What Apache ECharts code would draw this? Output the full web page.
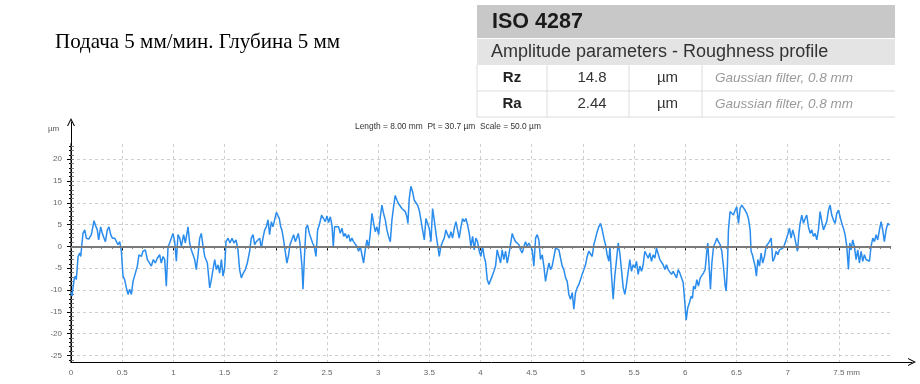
<!DOCTYPE html>
<html>
<head>
<meta charset="utf-8">
<title>Roughness profile</title>
<script src="https://cdn.jsdelivr.net/npm/echarts@6.0.0/dist/echarts.min.js"></script>
<style>
  html, body { margin: 0; padding: 0; background: #fff; }
  #main { width: 920px; height: 384px; }
</style>
</head>
<body>
<div id="main"></div>
<script>
// profile: x in mm, height in µm
var profileX = [
  0.000, 0.010, 0.030, 0.043, 0.052, 0.069, 0.085, 0.095, 0.117, 0.134, 0.150, 0.173, 0.199, 0.225, 0.238, 0.257,
  0.270, 0.290, 0.306, 0.323, 0.336, 0.355, 0.371, 0.388, 0.404, 0.427, 0.443, 0.459, 0.476, 0.492, 0.508, 0.524,
  0.541, 0.557, 0.573, 0.590, 0.606, 0.622, 0.648, 0.664, 0.687, 0.703, 0.726, 0.746, 0.762, 0.785, 0.804, 0.824,
  0.843, 0.866, 0.882, 0.899, 0.915, 0.931, 0.948, 0.964, 0.980, 0.996, 1.013, 1.029, 1.045, 1.062, 1.078, 1.100,
  1.117, 1.143, 1.159, 1.176, 1.192, 1.208, 1.224, 1.241, 1.257, 1.273, 1.290, 1.306, 1.332, 1.355, 1.371, 1.387,
  1.404, 1.420, 1.436, 1.452, 1.469, 1.485, 1.501, 1.514, 1.534, 1.553, 1.573, 1.592, 1.612, 1.631, 1.647, 1.664,
  1.683, 1.703, 1.722, 1.745, 1.761, 1.778, 1.794, 1.810, 1.826, 1.843, 1.859, 1.875, 1.892, 1.908, 1.924, 1.940,
  1.957, 1.973, 1.989, 2.006, 2.018, 2.035, 2.048, 2.060, 2.074, 2.093, 2.109, 2.126, 2.139, 2.158, 2.175, 2.191,
  2.204, 2.220, 2.236, 2.256, 2.266, 2.279, 2.295, 2.311, 2.328, 2.344, 2.360, 2.376, 2.393, 2.409, 2.425, 2.448,
  2.467, 2.484, 2.500, 2.516, 2.533, 2.549, 2.562, 2.575, 2.594, 2.614, 2.630, 2.647, 2.663, 2.679, 2.695, 2.712,
  2.728, 2.744, 2.760, 2.777, 2.793, 2.809, 2.826, 2.842, 2.858, 2.874, 2.891, 2.907, 2.923, 2.940, 2.956, 2.972,
  2.988, 3.005, 3.021, 3.037, 3.053, 3.070, 3.086, 3.102, 3.119, 3.135, 3.151, 3.167, 3.184, 3.200, 3.216, 3.232,
  3.249, 3.265, 3.281, 3.291, 3.304, 3.320, 3.337, 3.353, 3.369, 3.385, 3.402, 3.418, 3.434, 3.451, 3.467, 3.483,
  3.499, 3.516, 3.532, 3.548, 3.565, 3.581, 3.597, 3.613, 3.630, 3.646, 3.662, 3.679, 3.695, 3.711, 3.727, 3.744,
  3.760, 3.776, 3.792, 3.809, 3.825, 3.841, 3.858, 3.874, 3.890, 3.906, 3.923, 3.939, 3.955, 3.971, 3.988, 4.004,
  4.020, 4.037, 4.049, 4.066, 4.082, 4.098, 4.114, 4.131, 4.147, 4.163, 4.180, 4.196, 4.212, 4.228, 4.245, 4.261,
  4.277, 4.293, 4.310, 4.326, 4.342, 4.359, 4.375, 4.391, 4.407, 4.424, 4.440, 4.456, 4.472, 4.489, 4.505, 4.521,
  4.538, 4.554, 4.570, 4.586, 4.603, 4.619, 4.635, 4.652, 4.668, 4.684, 4.700, 4.717, 4.733, 4.749, 4.766, 4.782,
  4.798, 4.814, 4.831, 4.847, 4.863, 4.879, 4.896, 4.912, 4.928, 4.944, 4.961, 4.977, 4.993, 5.010, 5.026, 5.042,
  5.058, 5.075, 5.091, 5.107, 5.124, 5.140, 5.156, 5.172, 5.189, 5.205, 5.221, 5.237, 5.254, 5.264, 5.277, 5.296,
  5.312, 5.329, 5.345, 5.361, 5.377, 5.394, 5.410, 5.426, 5.443, 5.459, 5.475, 5.491, 5.508, 5.524, 5.540, 5.556,
  5.573, 5.589, 5.605, 5.622, 5.638, 5.654, 5.670, 5.687, 5.703, 5.719, 5.735, 5.752, 5.768, 5.784, 5.801, 5.817,
  5.833, 5.849, 5.866, 5.882, 5.898, 5.915, 5.931, 5.947, 5.963, 5.980, 5.996, 6.009, 6.025, 6.041, 6.058, 6.070,
  6.081, 6.097, 6.113, 6.129, 6.146, 6.162, 6.178, 6.194, 6.211, 6.220, 6.233, 6.246, 6.260, 6.276, 6.292, 6.308,
  6.324, 6.341, 6.357, 6.373, 6.390, 6.400, 6.412, 6.422, 6.438, 6.455, 6.471, 6.487, 6.503, 6.520, 6.536, 6.552,
  6.569, 6.585, 6.601, 6.617, 6.634, 6.643, 6.656, 6.669, 6.682, 6.695, 6.709, 6.725, 6.741, 6.757, 6.774, 6.790,
  6.806, 6.822, 6.839, 6.855, 6.871, 6.888, 6.904, 6.920, 6.936, 6.953, 6.969, 6.985, 7.001, 7.018, 7.034, 7.050,
  7.067, 7.083, 7.096, 7.109, 7.122, 7.138, 7.155, 7.171, 7.187, 7.203, 7.220, 7.236, 7.252, 7.269, 7.285, 7.301,
  7.317, 7.334, 7.350, 7.366, 7.382, 7.399, 7.415, 7.431, 7.447, 7.464, 7.480, 7.496, 7.513, 7.529, 7.545, 7.561,
  7.578, 7.594, 7.607, 7.620, 7.636, 7.652, 7.669, 7.685, 7.701, 7.718, 7.734, 7.750, 7.766, 7.783, 7.799, 7.815,
  7.832, 7.848, 7.864, 7.880, 7.897, 7.913, 7.929, 7.945, 7.962, 7.978, 7.995
];
var profileY = [
  -10.5, -11.4, -7.6, -6.8, -7.6, -2.3, -1.5, -2.3, 3.0, 3.8, 1.9, 1.7, 2.7, 5.9, 4.9, 3.8,
  1.5, 4.5, 3.0, 1.9, 1.1, 3.8, 4.5, 2.7, 1.9, 1.9, 2.3, 0.4, 1.1, -1.1, -6.8, -7.6,
  -9.5, -11.0, -9.8, -11.0, -8.0, -7.6, -4.5, -1.9, -2.3, -1.1, -0.8, -3.0, -2.7, -4.5, -3.0, -3.8,
  -2.7, -1.9, -3.8, -2.3, -3.0, -9.1, 0.0, 0.8, 0.4, 3.0, 1.1, -3.4, 2.7, 1.9, 0.0, 2.7,
  0.8, 4.5, 0.8, -0.8, -1.1, -3.0, -5.3, -1.9, 1.9, 3.0, 0.0, -2.3, -3.8, -9.5, -7.6, -5.3,
  -3.0, -5.3, -4.2, -6.1, -3.0, -6.8, -4.9, 1.1, 1.9, 0.8, 1.9, 0.8, 1.5, -0.8, -5.3, -7.2,
  -6.1, -5.3, -3.8, -1.1, 1.9, 2.7, 0.4, 1.1, 1.5, 1.9, -0.4, 1.9, 3.8, 4.5, 6.1, 2.7,
  5.7, 4.5, 4.2, 7.8, 8.0, 6.4, 4.5, 3.8, 1.9, 1.5, -3.8, -1.9, 0.4, 0.8, 2.7, 1.1,
  1.9, 3.0, 0.8, -4.5, -9.8, -3.0, 4.2, 4.9, 3.0, 1.9, 0.8, 0.0, -2.3, 3.8, 4.9, 7.2,
  6.8, 5.7, 7.0, 5.5, 6.8, 4.9, 0.0, 4.5, 4.9, 4.5, 3.0, 4.2, 2.3, 3.0, 1.9, 2.7,
  1.1, 1.9, 1.1, 1.5, 0.0, -1.1, 0.0, -1.9, -3.8, -0.8, 1.5, -0.4, 3.0, 7.6, 5.3, 3.4,
  4.5, 2.7, 6.8, 9.5, 7.6, 6.1, 3.8, 2.3, 1.1, 6.1, 9.1, 11.7, 10.6, 9.8, 10.2, 8.7,
  8.3, 8.0, 6.8, 5.3, 11.0, 13.8, 12.5, 10.6, 11.0, 9.5, 8.3, 6.1, 3.8, 1.5, 6.4, 6.1,
  4.2, 1.1, 8.7, 6.1, 3.0, 0.4, -2.3, 0.0, 1.1, 1.9, 3.8, 2.7, 1.9, 3.4, 1.9, 4.2,
  5.7, 3.8, 1.9, 4.5, 6.4, 5.7, 6.4, 4.9, 3.0, 0.0, 2.3, -0.8, 1.9, 1.1, -1.1, -2.3,
  0.0, -2.5, -3.5, -7.6, -8.7, -8.7, -6.8, -5.7, -4.5, -0.8, -0.4, -3.8, -0.8, -3.0, -1.1, -3.8,
  -1.9, 0.4, 3.0, 1.9, 1.1, 1.5, 0.4, -0.8, -1.5, 0.0, 1.1, 0.0, 0.8, 0.0, -0.8, -4.5,
  1.9, 2.7, 1.5, -3.0, -1.9, -4.5, -8.0, -5.7, -3.8, -5.3, -4.5, -4.9, -0.4, 0.0, -0.8, -2.7,
  -4.5, -5.3, -7.2, -8.0, -11.0, -12.1, -10.6, -14.4, -10.6, -9.5, -8.7, -7.6, -6.4, -5.3, -4.2, -2.3,
  -1.1, -1.5, -2.3, 0.4, 1.9, 3.4, 4.5, 5.3, 3.8, 1.9, 0.4, -1.9, -3.4, 0.0, -5.7, -12.1,
  -6.8, -3.0, 0.8, -1.5, -5.3, -9.5, -11.0, -8.7, -5.7, -3.0, -5.7, -4.2, -4.9, -3.4, -6.4, -4.5,
  -5.7, -4.2, -1.1, -0.8, -2.7, -1.5, -3.4, -1.9, -2.7, -0.4, -0.8, -3.0, -3.4, -4.2, -5.3, -4.2,
  -5.3, -4.9, -6.4, -5.7, -6.1, -7.2, -5.3, -6.1, -6.4, -8.3, -12.9, -16.9, -14.0, -12.9, -11.4, -11.9,
  -9.1, -9.8, -7.6, -9.1, -7.2, -7.6, -6.1, -5.3, -1.1, 0.8, -4.5, -9.8, -3.8, 0.0, 0.8, 1.9,
  1.1, 0.4, -1.1, -4.5, -9.1, -10.2, -4.5, 3.8, 8.0, 8.3, 7.2, 8.3, 9.1, 5.3, 8.7, 9.5,
  9.8, 8.3, 7.6, 6.4, 3.8, -1.1, -1.9, -1.9, -4.5, -6.8, -3.0, -4.5, -1.5, -3.8, -2.3, 0.0,
  0.4, 1.1, 1.9, -3.4, -2.7, -1.1, -1.9, -0.8, -1.1, -0.4, 0.4, 1.5, 2.7, 4.2, 1.9, 3.8,
  2.3, 0.4, -1.1, 2.7, 5.3, 7.2, 5.3, 6.4, 7.2, 4.5, 3.0, 3.8, 2.3, 3.0, 1.5, 3.8,
  8.0, 5.7, 3.8, 4.2, 5.7, 8.3, 9.5, 7.2, 6.1, 5.3, 7.6, 8.3, 6.8, 5.3, 4.2, 2.7,
  0.0, -5.3, 0.8, -0.8, 1.5, 0.0, -3.0, -0.8, -3.8, -1.1, -3.4, -1.9, -3.0, -2.7, -3.4, 0.0,
  1.9, 1.1, 2.7, 1.5, 3.8, 5.7, 3.8, 1.1, 3.8, 5.3, 4.9
];

var xTicks = [0, 0.5, 1, 1.5, 2, 2.5, 3, 3.5, 4, 4.5, 5, 5.5, 6, 6.5, 7, 7.5];
var yTicks = [-25, -20, -15, -10, -5, 0, 5, 10, 15, 20];
var yMin = -26.5;
var yMax = 23.5;

var chartTitle = 'Подача 5 мм/мин. Глубина 5 мм';
var headerText = 'Length = 8.00 mm  Pt = 30.7 µm  Scale = 50.0 µm';

var tableTitle = 'ISO 4287';
var tableSubtitle = 'Amplitude parameters - Roughness profile';
var paramNames = ['Rz', 'Ra'];
var paramValues = ['14.8', '2.44'];
var paramUnits = ['µm', 'µm'];
var paramNotes = ['Gaussian filter, 0.8 mm', 'Gaussian filter, 0.8 mm'];

var xMinor = [];
for (var i = 0; i <= 80; i++) xMinor.push(i / 10);
var yMinor = [];
for (var j = -26; j <= 23; j++) yMinor.push(j);

var data = [];
for (var k = 0; k < profileX.length; k++) data.push([profileX[k], profileY[k]]);

// open arrow head, pointing up (echarts turns it for the x axis)
var arrowHead = 'path://M0,10 L5,0 L10,10 L8.6,10 L5,2.8 L1.4,10 Z';

// ISO table on the top right
var tbl = [];
var tLeft = 477, tRight = 895;
var colX = [477, 547, 629, 702];
var rowTop = 65, rowH = 26;
tbl.push({ type: 'rect', shape: { x: tLeft, y: 5, width: tRight - tLeft, height: 33 }, style: { fill: '#c8c8c8' } });
tbl.push({ type: 'text', x: 492, y: 22, style: { text: tableTitle, font: 'bold 21.5px "Liberation Sans"', fill: '#1a1a1a', verticalAlign: 'middle', textVerticalAlign: 'middle' } });
tbl.push({ type: 'rect', shape: { x: tLeft, y: 39, width: tRight - tLeft, height: 26 }, style: { fill: '#e4e4e4' } });
tbl.push({ type: 'text', x: 491, y: 52, style: { text: tableSubtitle, font: '18px "Liberation Sans"', fill: '#333', verticalAlign: 'middle', textVerticalAlign: 'middle' } });
for (var r = 0; r < paramNames.length; r++) {
  var ry = rowTop + r * rowH;
  var cy = ry + rowH / 2;
  tbl.push({ type: 'line', shape: { x1: tLeft, y1: ry + rowH, x2: tRight, y2: ry + rowH }, style: { stroke: '#dcdcdc', lineWidth: 1 } });
  tbl.push({ type: 'text', x: (colX[0] + colX[1]) / 2, y: cy, style: { text: paramNames[r], font: 'bold 15px "Liberation Sans"', fill: '#222', align: 'center', textAlign: 'center', verticalAlign: 'middle', textVerticalAlign: 'middle' } });
  tbl.push({ type: 'text', x: (colX[1] + colX[2]) / 2 + 4, y: cy, style: { text: paramValues[r], font: '15px "Liberation Sans"', fill: '#333', align: 'center', textAlign: 'center', verticalAlign: 'middle', textVerticalAlign: 'middle' } });
  tbl.push({ type: 'text', x: (colX[2] + colX[3]) / 2 + 2, y: cy, style: { text: paramUnits[r], font: '15px "Liberation Sans"', fill: '#333', align: 'center', textAlign: 'center', verticalAlign: 'middle', textVerticalAlign: 'middle' } });
  tbl.push({ type: 'text', x: colX[3] + 13, y: cy, style: { text: paramNotes[r], font: 'italic 13.5px "Liberation Sans"', fill: '#9a9a9a', verticalAlign: 'middle', textVerticalAlign: 'middle' } });
}
for (var c = 0; c < colX.length; c++) {
  tbl.push({ type: 'line', shape: { x1: colX[c], y1: rowTop, x2: colX[c], y2: rowTop + 2 * rowH }, style: { stroke: '#dcdcdc', lineWidth: 1 } });
}

var labelStyle = { color: '#666', fontSize: 8, fontFamily: 'Liberation Sans' };
var gridLine = { show: true, lineStyle: { color: '#cfcfcf', type: [3, 3], width: 1 } };

var chart = echarts.init(document.getElementById('main'));
chart.setOption({
  animation: false,
  backgroundColor: '#fff',
  textStyle: { fontFamily: 'Liberation Sans' },
  title: [
    { text: chartTitle, left: 55, top: 32, padding: 0,
      textStyle: { fontFamily: 'Liberation Serif', fontSize: 21, fontWeight: 'normal', color: '#000' } },
    { text: headerText, left: 355, top: 123, padding: 0,
      textStyle: { fontSize: 8.4, fontWeight: 'normal', color: '#333' } },
    { text: 'µm', left: 48, top: 125, padding: 0,
      textStyle: { fontSize: 8, fontWeight: 'normal', color: '#555' } }
  ],
  graphic: tbl,
  grid: [
    { left: 71, right: 30, top: 144, bottom: 22 },
    { left: 71, right: 8, top: 122, bottom: 22 }
  ],
  xAxis: [
    { // labels, major ticks, grid
      type: 'value', gridIndex: 0, min: 0, max: 8, position: 'bottom',
      axisLine: { show: false },
      axisTick: { show: true, customValues: xTicks, length: 4, lineStyle: { color: '#000' } },
      axisLabel: Object.assign({
        customValues: xTicks, margin: 7,
        formatter: function (v) { return v === 7.5 ? '{g| mm}7.5 mm' : String(v); },
        rich: { g: { color: 'rgba(0,0,0,0)', fontSize: 8 } }
      }, labelStyle),
      splitLine: gridLine
    },
    { // minor ticks
      type: 'value', gridIndex: 0, min: 0, max: 8, position: 'bottom',
      axisLine: { show: false },
      axisTick: { show: true, customValues: xMinor, length: 2, lineStyle: { color: '#000' } },
      axisLabel: { show: false }, splitLine: { show: false }
    },
    { // top frame
      type: 'value', gridIndex: 0, min: 0, max: 8, position: 'top',
      axisLine: { show: true, lineStyle: { color: '#7d7d7d', width: 2 } },
      axisTick: { show: true, inside: true, customValues: xMinor, length: 2, lineStyle: { color: '#7d7d7d' } },
      axisLabel: { show: false }, splitLine: { show: false }
    },
    { // x axis with arrow
      type: 'value', gridIndex: 1, min: 0, max: 1,
      axisLine: { show: true, onZero: false, symbol: ['none', arrowHead], symbolSize: [8, 9], lineStyle: { color: '#000', width: 1 } },
      axisTick: { show: false }, axisLabel: { show: false }, splitLine: { show: false }
    }
  ],
  yAxis: [
    {
      type: 'value', gridIndex: 0, min: yMin, max: yMax, position: 'left',
      axisLine: { show: false },
      axisTick: { show: true, customValues: yTicks, length: 4, lineStyle: { color: '#000' } },
      axisLabel: Object.assign({ customValues: yTicks, margin: 9 }, labelStyle),
      splitLine: gridLine
    },
    {
      type: 'value', gridIndex: 0, min: yMin, max: yMax, position: 'left',
      axisLine: { show: false },
      axisTick: { show: true, customValues: yMinor, length: 2, lineStyle: { color: '#000' } },
      axisLabel: { show: false }, splitLine: { show: false }
    },
    { // right frame
      type: 'value', gridIndex: 0, min: yMin, max: yMax, position: 'right',
      axisLine: { show: true, lineStyle: { color: '#7d7d7d', width: 2 } },
      axisTick: { show: true, customValues: yMinor, length: 3, lineStyle: { color: '#7d7d7d' } },
      axisLabel: { show: false }, splitLine: { show: false }
    },
    { // y axis with arrow
      type: 'value', gridIndex: 1, min: 0, max: 1,
      axisLine: { show: true, onZero: false, symbol: ['none', arrowHead], symbolSize: [8, 9], lineStyle: { color: '#000', width: 1 } },
      axisTick: { show: false }, axisLabel: { show: false }, splitLine: { show: false }
    }
  ],
  series: [
    {
      name: 'profile',
      type: 'line',
      xAxisIndex: 0,
      yAxisIndex: 0,
      data: data,
      showSymbol: false,
      symbol: 'none',
      sampling: 'none',
      lineStyle: { color: '#2a8cec', width: 1.5 },
      z: 3,
      markLine: {
        silent: true,
        symbol: 'none',
        label: { show: false },
        lineStyle: { color: '#7a7a7a', width: 2, type: 'solid' },
        data: [{ yAxis: 0 }]
      }
    }
  ]
});
</script>
</body>
</html>
